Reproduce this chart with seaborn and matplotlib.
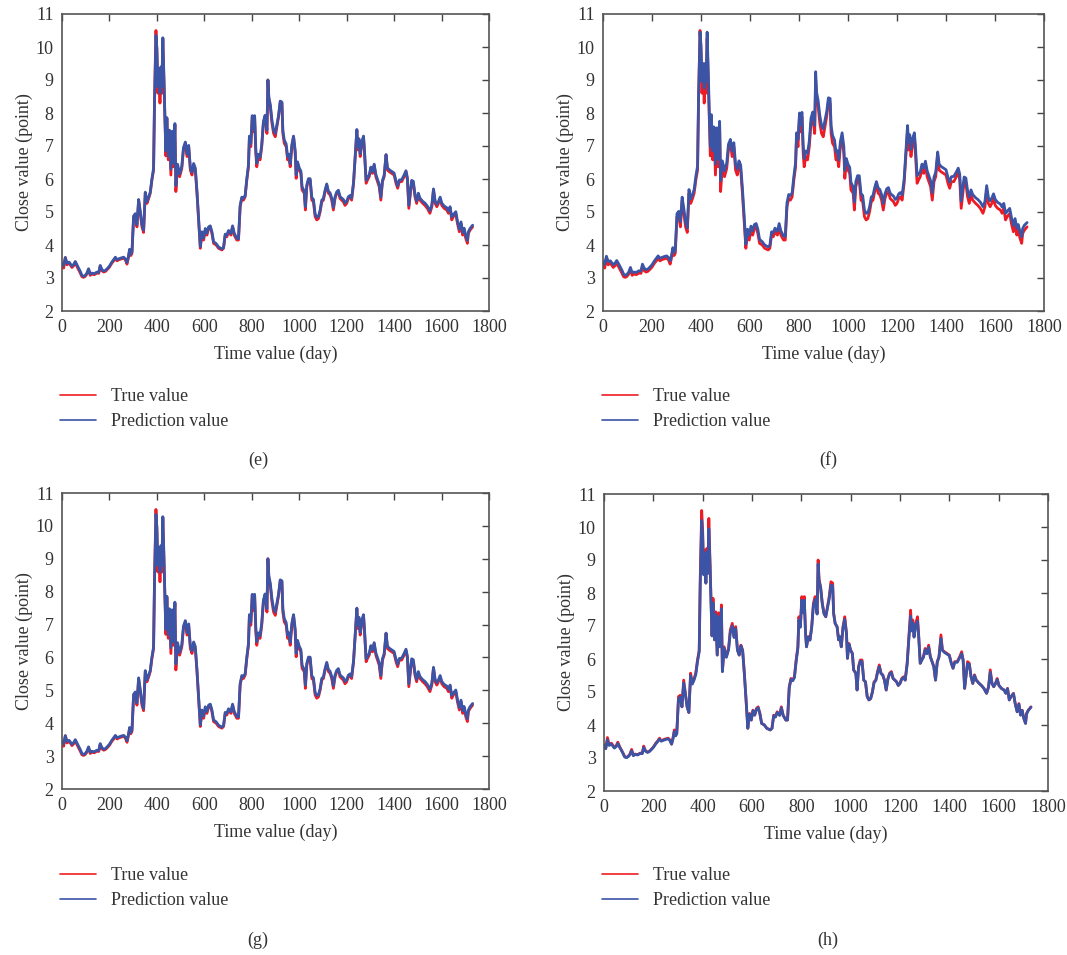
import matplotlib
matplotlib.use("Agg")
import matplotlib.pyplot as plt
from matplotlib.lines import Line2D
import seaborn as sns
import pandas as pd

days = [0, 7, 14, 21, 30, 42, 50, 56, 63, 70, 77, 84, 91, 98, 105, 112, 119, 126, 136, 147,
        155, 161, 168, 176, 183, 190, 200, 210, 218, 225, 232, 239, 250, 260, 267, 274, 280, 285, 290, 295,
        302, 309, 316, 323, 330, 337, 344, 351, 358, 365, 372, 379, 386, 390, 396, 400, 404, 409, 413, 417,
        421, 425, 430, 434, 438, 442, 448, 453, 459, 465, 470, 476, 480, 487, 496, 505, 512, 520, 527, 534,
        541, 548, 555, 562, 569, 576, 583, 590, 597, 604, 611, 618, 625, 632, 639, 650, 660, 674, 681, 688,
        695, 702, 712, 719, 726, 737, 744, 751, 758, 765, 772, 779, 786, 790, 796, 802, 807, 812, 817, 821,
        828, 835, 842, 849, 856, 864, 868, 872, 878, 885, 892, 899, 906, 913, 920, 927, 931, 937, 945, 951,
        956, 962, 969, 976, 983, 987, 993, 1000, 1007, 1012, 1021, 1026, 1032, 1039, 1046, 1053, 1060, 1067, 1074, 1081,
        1088, 1095, 1102, 1109, 1116, 1123, 1130, 1137, 1144, 1151, 1158, 1165, 1172, 1179, 1186, 1193, 1200, 1207, 1214, 1221,
        1229, 1236, 1243, 1247, 1252, 1257, 1264, 1271, 1276, 1282, 1288, 1295, 1302, 1309, 1316, 1323, 1330, 1337, 1344, 1351,
        1358, 1366, 1372, 1380, 1390, 1400, 1408, 1415, 1422, 1432, 1442, 1450, 1456, 1462, 1467, 1474, 1481, 1488, 1495, 1502,
        1509, 1521, 1530, 1540, 1551, 1559, 1566, 1573, 1580, 1587, 1594, 1601, 1611, 1622, 1629, 1636, 1643, 1650, 1660, 1667,
        1675, 1682, 1689, 1695, 1702, 1709, 1713, 1720, 1731]

true_vals = [3.40, 3.30, 3.62, 3.40, 3.45, 3.32, 3.38, 3.48, 3.35, 3.25, 3.15, 3.04, 3.02, 3.05, 3.12, 3.26, 3.08, 3.12, 3.10, 3.15,
             3.14, 3.36, 3.22, 3.18, 3.20, 3.25, 3.33, 3.45, 3.52, 3.60, 3.52, 3.55, 3.58, 3.60, 3.55, 3.42, 3.62, 3.85, 3.68, 3.75,
             4.86, 4.90, 4.55, 5.36, 4.96, 4.55, 4.38, 5.57, 5.26, 5.40, 5.57, 5.97, 6.27, 8.40, 10.50, 9.90, 8.60, 9.30, 8.30, 9.35,
             8.60, 10.26, 8.90, 7.70, 6.70, 7.84, 6.58, 7.43, 6.12, 7.40, 6.37, 7.64, 5.62, 6.37, 6.07, 6.32, 6.88, 7.08, 6.68, 6.98,
             6.27, 6.12, 6.42, 6.27, 5.57, 4.76, 3.90, 4.35, 4.15, 4.45, 4.30, 4.50, 4.55, 4.35, 4.05, 4.00, 3.90, 3.85, 3.90, 4.30,
             4.25, 4.40, 4.30, 4.55, 4.30, 4.15, 4.15, 5.16, 5.41, 5.36, 5.46, 5.97, 6.37, 7.28, 6.98, 7.89, 7.43, 7.89, 6.78, 6.37,
             6.68, 6.58, 6.98, 7.69, 7.89, 7.38, 9.00, 8.40, 8.20, 7.69, 7.38, 7.28, 7.59, 7.89, 8.34, 8.30, 7.38, 7.08, 6.98, 6.58,
             6.68, 6.37, 6.98, 7.28, 6.78, 6.02, 6.47, 6.27, 6.17, 5.67, 5.57, 5.06, 5.77, 5.97, 5.97, 5.36, 5.31, 4.86, 4.76, 4.80,
             5.00, 5.31, 5.36, 5.62, 5.82, 5.57, 5.52, 5.36, 5.06, 5.41, 5.57, 5.62, 5.41, 5.36, 5.31, 5.20, 5.26, 5.41, 5.46, 5.36,
             5.87, 6.68, 7.48, 6.88, 7.18, 6.68, 7.08, 7.28, 6.68, 5.87, 5.97, 6.07, 6.32, 6.17, 6.42, 6.07, 5.92, 5.77, 5.36, 5.92,
             6.07, 6.73, 6.27, 6.22, 6.17, 6.12, 5.87, 5.72, 5.92, 5.92, 6.07, 6.22, 5.97, 5.11, 5.46, 5.92, 5.87, 5.46, 5.26, 5.52,
             5.36, 5.26, 5.20, 5.11, 4.96, 5.16, 5.67, 5.26, 5.16, 5.26, 5.41, 5.20, 5.11, 5.06, 4.96, 5.11, 4.76, 4.86, 4.96, 4.65,
             4.40, 4.65, 4.30, 4.45, 4.20, 4.05, 4.35, 4.45, 4.55]

pred_e = [3.45, 3.38, 3.62, 3.45, 3.48, 3.36, 3.42, 3.50, 3.40, 3.30, 3.20, 3.08, 3.05, 3.08, 3.15, 3.28, 3.12, 3.15, 3.13, 3.18,
          3.17, 3.38, 3.26, 3.21, 3.23, 3.28, 3.36, 3.48, 3.56, 3.63, 3.56, 3.58, 3.61, 3.63, 3.58, 3.47, 3.65, 3.87, 3.72, 3.80,
          4.88, 4.95, 4.62, 5.38, 5.02, 4.62, 4.45, 5.60, 5.32, 5.45, 5.60, 6.00, 6.32, 8.30, 10.35, 9.95, 8.80, 9.35, 8.60, 9.40,
          8.80, 10.28, 9.00, 7.80, 6.85, 7.86, 6.70, 7.48, 6.30, 7.45, 6.48, 7.68, 5.80, 6.45, 6.15, 6.38, 6.95, 7.12, 6.75, 7.02,
          6.35, 6.20, 6.47, 6.33, 5.62, 4.80, 3.95, 4.40, 4.22, 4.50, 4.36, 4.55, 4.58, 4.40, 4.10, 4.04, 3.94, 3.88, 3.93, 4.33,
          4.30, 4.44, 4.35, 4.58, 4.36, 4.20, 4.19, 5.20, 5.45, 5.42, 5.50, 6.00, 6.42, 7.30, 7.08, 7.92, 7.52, 7.92, 6.90, 6.48,
          6.75, 6.66, 7.04, 7.74, 7.93, 7.48, 9.00, 8.48, 8.26, 7.78, 7.48, 7.38, 7.66, 7.93, 8.36, 8.33, 7.48, 7.18, 7.06, 6.68,
          6.75, 6.46, 7.04, 7.30, 6.86, 6.12, 6.52, 6.34, 6.24, 5.76, 5.64, 5.16, 5.82, 6.01, 6.01, 5.44, 5.38, 4.94, 4.84, 4.86,
          5.05, 5.36, 5.41, 5.66, 5.85, 5.63, 5.58, 5.42, 5.14, 5.46, 5.61, 5.66, 5.47, 5.42, 5.38, 5.27, 5.32, 5.46, 5.50, 5.42,
          5.90, 6.72, 7.50, 6.98, 7.22, 6.76, 7.12, 7.30, 6.76, 5.96, 6.04, 6.12, 6.36, 6.23, 6.45, 6.14, 5.99, 5.84, 5.45, 5.96,
          6.11, 6.74, 6.34, 6.28, 6.23, 6.18, 5.94, 5.79, 5.97, 5.98, 6.12, 6.25, 6.04, 5.20, 5.52, 5.96, 5.93, 5.53, 5.33, 5.57,
          5.42, 5.32, 5.27, 5.18, 5.04, 5.21, 5.70, 5.33, 5.23, 5.32, 5.45, 5.27, 5.18, 5.13, 5.03, 5.16, 4.84, 4.92, 5.01, 4.72,
          4.48, 4.70, 4.38, 4.51, 4.28, 4.14, 4.40, 4.50, 4.60]

pred_f = [3.50, 3.42, 3.66, 3.50, 3.52, 3.40, 3.46, 3.53, 3.44, 3.34, 3.24, 3.12, 3.08, 3.11, 3.18, 3.32, 3.16, 3.18, 3.17, 3.22,
          3.21, 3.42, 3.30, 3.25, 3.27, 3.32, 3.40, 3.52, 3.60, 3.67, 3.60, 3.62, 3.65, 3.67, 3.62, 3.52, 3.70, 3.92, 3.78, 3.86,
          4.95, 5.02, 4.70, 5.45, 5.10, 4.70, 4.52, 5.68, 5.40, 5.52, 5.68, 6.08, 6.40, 8.45, 10.45, 10.05, 8.95, 9.50, 8.75, 9.50,
          8.95, 10.45, 9.15, 7.95, 6.98, 7.95, 6.85, 7.58, 6.45, 7.55, 6.60, 7.75, 5.95, 6.55, 6.25, 6.48, 7.05, 7.20, 6.85, 7.10,
          6.45, 6.30, 6.55, 6.42, 5.72, 4.90, 4.02, 4.48, 4.30, 4.57, 4.44, 4.62, 4.65, 4.48, 4.17, 4.10, 4.00, 3.94, 3.99, 4.40,
          4.37, 4.51, 4.42, 4.65, 4.43, 4.27, 4.26, 5.28, 5.53, 5.50, 5.58, 6.08, 6.50, 7.40, 7.20, 8.00, 7.65, 8.02, 7.05, 6.62,
          6.85, 6.78, 7.15, 7.84, 8.03, 7.62, 9.25, 8.62, 8.38, 7.92, 7.62, 7.52, 7.78, 8.04, 8.46, 8.44, 7.62, 7.32, 7.18, 6.82,
          6.86, 6.58, 7.14, 7.40, 6.98, 6.26, 6.62, 6.45, 6.35, 5.90, 5.76, 5.30, 5.92, 6.10, 6.10, 5.56, 5.50, 5.06, 4.96, 4.97,
          5.15, 5.45, 5.50, 5.74, 5.92, 5.73, 5.68, 5.53, 5.26, 5.55, 5.70, 5.74, 5.57, 5.52, 5.48, 5.38, 5.42, 5.55, 5.59, 5.52,
          5.98, 6.82, 7.62, 7.12, 7.34, 6.90, 7.24, 7.40, 6.90, 6.10, 6.15, 6.22, 6.45, 6.33, 6.54, 6.25, 6.10, 5.95, 5.58, 6.06,
          6.20, 6.82, 6.45, 6.38, 6.33, 6.28, 6.05, 5.90, 6.07, 6.08, 6.21, 6.33, 6.15, 5.33, 5.63, 6.06, 6.03, 5.65, 5.45, 5.67,
          5.53, 5.43, 5.38, 5.30, 5.16, 5.32, 5.80, 5.44, 5.34, 5.42, 5.55, 5.38, 5.29, 5.24, 5.15, 5.26, 4.96, 5.02, 5.11, 4.84,
          4.60, 4.80, 4.50, 4.62, 4.40, 4.25, 4.50, 4.60, 4.68]

# panel (g) shows the same prediction curve as panel (e)
pred_g = list(pred_e)

pred_h = [3.38, 3.28, 3.55, 3.38, 3.42, 3.30, 3.35, 3.44, 3.33, 3.24, 3.14, 3.03, 3.01, 3.04, 3.10, 3.22, 3.07, 3.11, 3.09, 3.14,
          3.13, 3.32, 3.21, 3.17, 3.19, 3.24, 3.32, 3.43, 3.50, 3.57, 3.51, 3.53, 3.56, 3.58, 3.53, 3.42, 3.59, 3.80, 3.67, 3.73,
          4.78, 4.85, 4.55, 5.28, 4.93, 4.55, 4.38, 5.50, 5.24, 5.36, 5.53, 5.92, 6.22, 8.20, 10.20, 9.70, 8.55, 9.20, 8.30, 9.25,
          8.60, 9.95, 8.80, 7.62, 6.70, 7.70, 6.58, 7.35, 6.12, 7.28, 6.37, 7.52, 5.62, 6.33, 6.05, 6.28, 6.80, 7.00, 6.65, 6.92,
          6.27, 6.12, 6.40, 6.25, 5.55, 4.76, 3.90, 4.33, 4.15, 4.43, 4.30, 4.48, 4.52, 4.34, 4.05, 4.00, 3.90, 3.85, 3.90, 4.28,
          4.24, 4.38, 4.29, 4.52, 4.30, 4.15, 4.15, 5.12, 5.38, 5.34, 5.44, 5.93, 6.33, 7.18, 6.96, 7.78, 7.40, 7.78, 6.78, 6.37,
          6.66, 6.57, 6.95, 7.62, 7.80, 7.36, 8.88, 8.36, 8.16, 7.66, 7.37, 7.28, 7.55, 7.82, 8.24, 8.22, 7.38, 7.08, 6.97, 6.58,
          6.67, 6.37, 6.95, 7.20, 6.78, 6.02, 6.45, 6.26, 6.16, 5.67, 5.56, 5.06, 5.74, 5.93, 5.93, 5.36, 5.31, 4.86, 4.76, 4.80,
          4.99, 5.29, 5.35, 5.59, 5.77, 5.56, 5.51, 5.36, 5.06, 5.39, 5.55, 5.59, 5.41, 5.36, 5.31, 5.20, 5.26, 5.39, 5.44, 5.36,
          5.84, 6.62, 7.30, 6.85, 7.10, 6.66, 7.02, 7.15, 6.66, 5.87, 5.96, 6.05, 6.28, 6.16, 6.36, 6.06, 5.92, 5.77, 5.36, 5.90,
          6.05, 6.62, 6.26, 6.20, 6.15, 6.10, 5.87, 5.72, 5.90, 5.90, 6.04, 6.16, 5.96, 5.11, 5.45, 5.86, 5.84, 5.46, 5.26, 5.50,
          5.36, 5.26, 5.20, 5.11, 4.96, 5.15, 5.60, 5.26, 5.16, 5.25, 5.38, 5.20, 5.11, 5.06, 4.96, 5.10, 4.76, 4.86, 4.95, 4.65,
          4.40, 4.63, 4.30, 4.44, 4.20, 4.05, 4.33, 4.44, 4.54]

panel_tags = ["(e)", "(f)", "(g)", "(h)"]
predictions = [pred_e, pred_f, pred_g, pred_h]
series_names = ["True value", "Prediction value"]
x_ticks = [0, 200, 400, 600, 800, 1000, 1200, 1400, 1600, 1800]
y_ticks = [2, 3, 4, 5, 6, 7, 8, 9, 10, 11]

RED = "#ed1c24"
BLUE = "#3b54a5"
TXT = "#333333"
FS = 13

sns.set_theme(style="white")
plt.rcParams["font.family"] = ["Liberation Serif", "DejaVu Serif"]
plt.rcParams["text.color"] = TXT
plt.rcParams["axes.labelcolor"] = TXT

W, H = 1067, 955
fig = plt.figure(figsize=(W / 100, H / 100), dpi=100)

# axes boxes in pixels: left, top, right, bottom
boxes = [(62, 14, 489, 311), (603, 14, 1044, 311),
         (62, 493, 489, 789), (604, 494, 1048, 791)]
# legend top-left and caption centre, in pixels
legend_pos = [(60, 388), (602, 388), (60, 867), (602, 867)]
caption_pos = [(258, 460), (828, 460), (258, 940), (828, 940)]

for tag, pred, (l, t, r, b), (lx, ly), (cx, cy) in zip(panel_tags, predictions, boxes,
                                                       legend_pos, caption_pos):
    ax = fig.add_axes([l / W, 1 - b / H, (r - l) / W, (b - t) / H])
    df = pd.DataFrame({
        "day": days + days,
        "value": true_vals + pred,
        "series": [series_names[0]] * len(days) + [series_names[1]] * len(days),
    })
    sns.lineplot(data=df, x="day", y="value", hue="series", palette=[RED, BLUE],
                 estimator=None, sort=False, linewidth=2.0, legend=False, ax=ax)
    ax.set_xlim(0, 1800)
    ax.set_ylim(2, 11)
    ax.set_xticks(x_ticks)
    ax.set_yticks(y_ticks)
    ax.tick_params(direction="in", top=True, right=True, length=5, width=1,
                   color="#444444", labelsize=FS, labelcolor=TXT, pad=6)
    for s in ax.spines.values():
        s.set_color("#555555")
        s.set_linewidth(1.2)
    ax.set_xlabel("Time value (day)", fontsize=FS, labelpad=7)
    ax.set_ylabel("Close value (point)", fontsize=FS, labelpad=2)

    # legend under each panel
    handles = [Line2D([], [], color=RED, lw=1.2), Line2D([], [], color=BLUE, lw=1.2)]
    fig.legend(handles, series_names, loc="upper left",
               bbox_to_anchor=(lx / W, 1 - ly / H),
               frameon=False, fontsize=FS, handlelength=2.0, handletextpad=0.8,
               labelspacing=0.45, borderpad=0, borderaxespad=0)

    fig.text(cx / W, 1 - cy / H, tag, ha="center", va="center",
             fontsize=FS, color=TXT)

fig.savefig("out.png", dpi=100)
